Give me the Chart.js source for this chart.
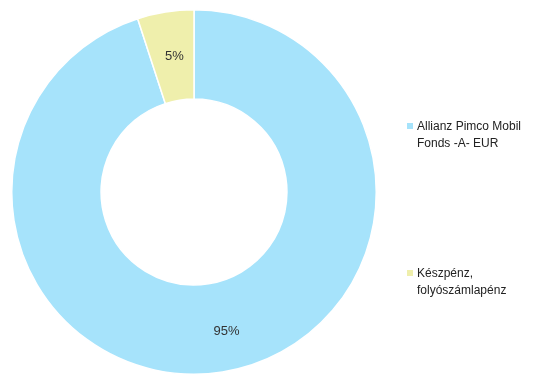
<!DOCTYPE html>
<html>
<head>
<meta charset="utf-8">
<script src="https://cdn.jsdelivr.net/npm/chart.js@4/dist/chart.umd.min.js"></script>
<style>
    body { margin: 0; background: #fff; }
    #wrap { position: relative; width: 535px; height: 376px; }
    .legend-item {
        position: absolute;
        left: 405px;
        font-family: "Liberation Sans", Arial, sans-serif;
        font-size: 12px;
        line-height: 17px;
        color: #222;
        padding-left: 12px;
        width: 125px;
    }
    .legend-item .box {
        position: absolute;
        left: 2px;
        top: 5px;
        width: 6px;
        height: 6px;
    }
</style>
</head>
<body>
<div id="wrap">
    <canvas id="portfolioChart" width="535" height="376"></canvas>
</div>
<script>
const labels = ['Allianz Pimco Mobil Fonds -A- EUR', 'Készpénz, folyószámlapénz'];
const legendLines = [['Allianz Pimco Mobil', 'Fonds -A- EUR'], ['Készpénz,', 'folyószámlapénz']];
const shares = [95, 5];
const colors = ['#a6e3fb', '#efefac'];

document.addEventListener('DOMContentLoaded', () => {
    // percent labels in the middle of each ring segment
    const sliceLabels = {
        id: 'sliceLabels',
        afterDatasetsDraw(chart) {
            const ctx = chart.ctx;
            const meta = chart.getDatasetMeta(0);
            ctx.save();
            ctx.font = '13px "Liberation Sans", Arial, sans-serif';
            ctx.fillStyle = '#333';
            ctx.textAlign = 'center';
            ctx.textBaseline = 'middle';
            meta.data.forEach((arc, i) => {
                const p = arc.tooltipPosition();
                ctx.fillText(shares[i] + '%', p.x + (i === 0 ? 11 : 2), p.y + (i === 0 ? 4 : 0));
            });
            ctx.restore();
        }
    };

    new Chart(document.getElementById('portfolioChart'), {
        type: 'doughnut',
        data: {
            labels: labels,
            datasets: [{
                data: shares,
                backgroundColor: colors,
                borderColor: '#fff',
                borderWidth: 1.5
            }]
        },
        options: {
            responsive: false,
            animation: false,
            cutout: '51%',
            layout: { padding: { left: 11, right: 158, top: 9, bottom: 1 } },
            plugins: {
                legend: { display: false },
                tooltip: { enabled: false }
            }
        },
        plugins: [sliceLabels]
    });

    // legend on the right
    const wrap = document.getElementById('wrap');
    const tops = [118, 265];
    legendLines.forEach((lines, i) => {
        const item = document.createElement('div');
        item.className = 'legend-item';
        item.style.top = tops[i] + 'px';
        item.innerHTML = '<span class="box" style="background:' + colors[i] + '"></span>' + lines.join('<br>');
        wrap.appendChild(item);
    });
});
</script>
</body>
</html>
